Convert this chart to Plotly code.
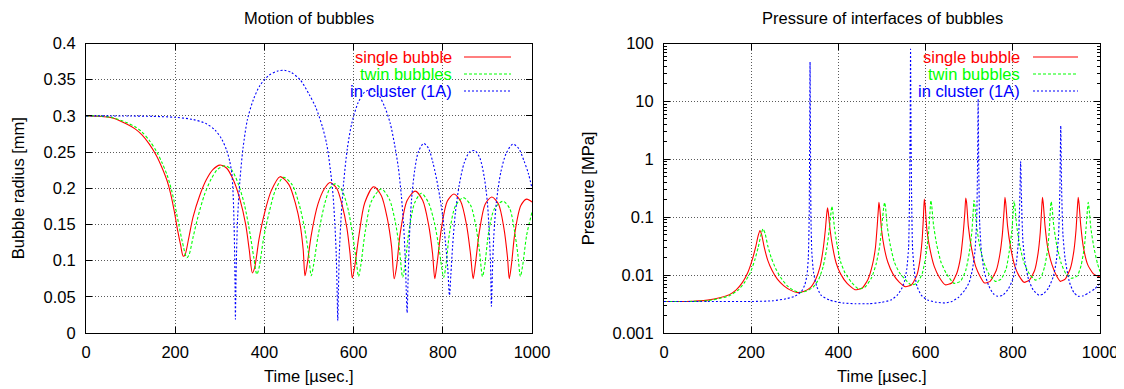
import plotly.graph_objects as go

# ---------------- data: bubble radius [mm] ----------------
t_r_single = [0, 30, 60, 90, 110, 125, 142, 158, 170, 182, 190, 198, 206, 212, 218, 222, 230, 240, 255, 270,
              285, 300, 315, 330, 345, 358, 366, 373, 378, 388, 400, 415, 435, 455, 470, 480, 487, 491, 496, 505,
              520, 535, 547, 562, 575, 585, 592, 597, 602, 612, 625, 645, 662, 675, 685, 691, 696, 705, 720, 738,
              755, 768, 777, 782, 787, 797, 810, 825, 840, 853, 862, 868, 873, 882, 895, 910, 925, 937, 945, 949,
              954, 962, 975, 988, 1000]
r_single = [0.300, 0.2995, 0.297, 0.289, 0.282, 0.274, 0.261, 0.245, 0.229, 0.210, 0.192, 0.168, 0.140, 0.122,
            0.106, 0.108, 0.130, 0.160, 0.190, 0.212, 0.226, 0.232, 0.228, 0.212, 0.185, 0.150, 0.115, 0.083,
            0.090, 0.130, 0.165, 0.196, 0.216, 0.205, 0.178, 0.150, 0.115, 0.079, 0.095, 0.135, 0.178, 0.200,
            0.208, 0.200, 0.175, 0.145, 0.110, 0.076, 0.090, 0.135, 0.180, 0.202, 0.190, 0.160, 0.120, 0.075,
            0.090, 0.140, 0.183, 0.196, 0.183, 0.150, 0.110, 0.075, 0.095, 0.145, 0.182, 0.192, 0.182, 0.150,
            0.110, 0.075, 0.095, 0.140, 0.178, 0.188, 0.178, 0.145, 0.105, 0.075, 0.095, 0.140, 0.176, 0.185,
            0.181]

t_r_twin = [0, 30, 60, 90, 110, 125, 142, 158, 170, 182, 192, 200, 208, 216, 226, 231, 240, 250, 265, 280,
            295, 312, 327, 342, 355, 367, 376, 383, 388, 398, 410, 425, 443, 462, 477, 490, 499, 505, 510, 520,
            535, 547, 559, 574, 588, 598, 606, 611, 616, 626, 640, 662, 680, 693, 702, 710, 715, 724, 737, 752,
            768, 782, 792, 802, 807, 815, 828, 846, 862, 874, 882, 889, 894, 903, 916, 935, 950, 961, 968, 974,
            979, 988, 1000]
r_twin = [0.300, 0.2997, 0.2975, 0.291, 0.285, 0.278, 0.266, 0.251, 0.236, 0.218, 0.197, 0.175, 0.150, 0.126,
          0.104, 0.108, 0.132, 0.158, 0.190, 0.212, 0.226, 0.231, 0.225, 0.205, 0.178, 0.140, 0.105, 0.081,
          0.090, 0.130, 0.165, 0.198, 0.215, 0.205, 0.180, 0.145, 0.110, 0.079, 0.093, 0.133, 0.178, 0.200,
          0.206, 0.197, 0.170, 0.135, 0.100, 0.078, 0.093, 0.140, 0.182, 0.199, 0.185, 0.155, 0.120, 0.077,
          0.093, 0.140, 0.180, 0.193, 0.180, 0.150, 0.115, 0.077, 0.093, 0.138, 0.175, 0.187, 0.177, 0.148,
          0.115, 0.078, 0.093, 0.140, 0.172, 0.182, 0.172, 0.140, 0.110, 0.078, 0.093, 0.135, 0.167]

t_r_cluster = [0, 100, 150, 200, 240, 270, 290, 305, 315, 322, 327, 330, 332, 333.5, 334.5, 335, 336, 337.5, 340,
               345, 352, 362, 375, 390, 410, 430, 445, 460, 480, 500, 515, 530, 540, 548, 554, 558, 561, 563,
               564.5, 566, 568, 572, 578, 586, 596, 610, 625, 640, 655, 670, 682, 692, 700, 707, 712, 716, 718,
               720, 722, 725, 730, 737, 745, 757, 768, 778, 790, 800, 806, 811, 815, 818, 822, 828, 837, 848,
               860, 872, 883, 893, 900, 904, 907, 909, 911, 914, 920, 930, 942, 957, 970, 982, 992, 1000]
r_cluster = [0.300, 0.2998, 0.2993, 0.298, 0.295, 0.289, 0.280, 0.267, 0.253, 0.238, 0.220, 0.190, 0.150, 0.100,
             0.050, 0.019, 0.060, 0.110, 0.160, 0.210, 0.255, 0.295, 0.322, 0.342, 0.356, 0.362, 0.363, 0.360,
             0.350, 0.330, 0.312, 0.285, 0.260, 0.225, 0.190, 0.150, 0.110, 0.060, 0.017, 0.060, 0.110, 0.160,
             0.210, 0.255, 0.290, 0.318, 0.333, 0.336, 0.330, 0.312, 0.290, 0.260, 0.230, 0.190, 0.150, 0.100,
             0.060, 0.028, 0.070, 0.130, 0.185, 0.225, 0.250, 0.262, 0.255, 0.235, 0.200, 0.160, 0.125, 0.090,
             0.052, 0.080, 0.120, 0.165, 0.205, 0.235, 0.250, 0.252, 0.242, 0.215, 0.180, 0.140, 0.095, 0.037,
             0.080, 0.130, 0.180, 0.222, 0.248, 0.261, 0.255, 0.238, 0.220, 0.200]

# ---------------- data: interface pressure [MPa] ----------------
t_p_single = [0, 50, 100, 130, 150, 165, 180, 192, 202, 210, 216, 220, 224, 230, 238, 248, 260, 275, 290, 305,
              320, 335, 348, 358, 365, 370, 373, 375, 377, 381, 387, 395, 405, 420, 438, 455, 468, 478, 485, 489,
              492, 493, 495, 499, 505, 513, 525, 540, 554, 568, 580, 587, 592, 595, 597, 599, 603, 610, 620, 632,
              645, 660, 672, 680, 686, 690, 692, 694, 698, 705, 715, 725, 735, 748, 762, 770, 776, 780, 782, 784,
              788, 795, 805, 815, 826, 838, 850, 858, 863, 866, 868, 870, 874, 880, 890, 900, 909, 920, 932, 940,
              945, 948, 950, 952, 956, 962, 972, 985, 1000]
p_single = [0.0035, 0.0035, 0.0037, 0.0041, 0.0046, 0.0055, 0.0075, 0.011, 0.018, 0.030, 0.048, 0.059, 0.050,
            0.030, 0.018, 0.012, 0.0085, 0.0065, 0.0055, 0.0050, 0.0052, 0.0060, 0.0085, 0.014, 0.028, 0.060,
            0.110, 0.145, 0.120, 0.060, 0.030, 0.016, 0.0105, 0.0072, 0.0056, 0.0060, 0.0085, 0.015, 0.030,
            0.070, 0.150, 0.180, 0.140, 0.060, 0.030, 0.017, 0.0105, 0.0075, 0.0063, 0.0068, 0.010, 0.018,
            0.040, 0.100, 0.205, 0.160, 0.060, 0.028, 0.014, 0.0090, 0.0068, 0.0073, 0.011, 0.020, 0.050,
            0.120, 0.215, 0.180, 0.070, 0.030, 0.014, 0.0095, 0.0073, 0.0078, 0.012, 0.022, 0.050, 0.130,
            0.220, 0.170, 0.070, 0.030, 0.014, 0.0095, 0.0075, 0.0082, 0.012, 0.024, 0.055, 0.130, 0.220,
            0.170, 0.070, 0.030, 0.015, 0.0098, 0.0078, 0.0085, 0.013, 0.026, 0.060, 0.140, 0.220, 0.170,
            0.070, 0.030, 0.015, 0.0105, 0.0092]

t_p_twin = [0, 50, 100, 130, 150, 170, 185, 198, 208, 216, 222, 227, 232, 238, 246, 256, 268, 283, 298, 312,
            327, 342, 355, 365, 373, 379, 383, 385, 387, 391, 397, 405, 415, 430, 446, 462, 476, 487, 495, 500,
            504, 506, 508, 512, 519, 528, 540, 553, 566, 580, 592, 600, 606, 610, 612, 614, 618, 625, 635, 648,
            665, 680, 692, 700, 706, 709, 711, 713, 717, 724, 733, 745, 760, 773, 785, 792, 798, 801, 803, 805,
            809, 816, 826, 838, 852, 864, 873, 880, 884, 886, 888, 890, 894, 901, 911, 922, 935, 948, 957, 964,
            968, 971, 973, 975, 979, 986, 994, 1000]
p_twin = [0.0035, 0.0035, 0.0036, 0.0040, 0.0044, 0.0055, 0.0075, 0.011, 0.018, 0.030, 0.048, 0.063, 0.052,
          0.032, 0.020, 0.013, 0.0090, 0.0065, 0.0054, 0.0050, 0.0053, 0.0062, 0.0085, 0.014, 0.028, 0.060,
          0.120, 0.155, 0.130, 0.065, 0.033, 0.017, 0.011, 0.0075, 0.0058, 0.0063, 0.0090, 0.016, 0.033,
          0.075, 0.150, 0.180, 0.150, 0.070, 0.033, 0.017, 0.011, 0.0085, 0.0068, 0.0072, 0.0105, 0.020,
          0.045, 0.120, 0.195, 0.160, 0.075, 0.035, 0.017, 0.0105, 0.0072, 0.0078, 0.012, 0.024, 0.055,
          0.120, 0.195, 0.160, 0.070, 0.032, 0.017, 0.0105, 0.0078, 0.0085, 0.013, 0.026, 0.060, 0.130,
          0.190, 0.150, 0.070, 0.032, 0.016, 0.0105, 0.0082, 0.0090, 0.014, 0.028, 0.065, 0.130, 0.186,
          0.150, 0.070, 0.032, 0.016, 0.0105, 0.0088, 0.0097, 0.015, 0.030, 0.065, 0.130, 0.180, 0.140,
          0.065, 0.030, 0.016, 0.0115]

t_p_cluster = [0, 100, 200, 250, 280, 300, 315, 323, 328, 331, 333, 334, 335, 336, 337, 339, 343, 350, 360, 380,
               410, 440, 470, 500, 520, 535, 545, 552, 557, 561, 563, 564.5, 565.5, 566.5, 568, 570, 574, 580,
               590, 605, 625, 645, 660, 675, 690, 700, 707, 713, 717, 719, 720.5, 722, 724, 728, 735, 745, 755,
               765, 777, 790, 800, 808, 813, 816, 818, 820, 823, 828, 836, 847, 860, 870, 882, 893, 900, 905,
               908, 910, 912, 915, 920, 930, 940, 950, 962, 975, 988, 1000]
p_cluster = [0.0035, 0.0035, 0.0035, 0.0036, 0.0039, 0.0043, 0.0052, 0.0068, 0.010, 0.020, 0.10, 1.5, 48.0,
             1.5, 0.10, 0.025, 0.011, 0.0065, 0.0045, 0.0037, 0.0033, 0.0032, 0.0032, 0.0034, 0.0037, 0.0045,
             0.0058, 0.0080, 0.013, 0.030, 0.20, 3.0, 80.0, 3.0, 0.20, 0.030, 0.012, 0.0065, 0.0045, 0.0037,
             0.0034, 0.0033, 0.0035, 0.0041, 0.0055, 0.0075, 0.012, 0.025, 0.080, 0.60, 11.0, 0.60, 0.080,
             0.025, 0.011, 0.0065, 0.0048, 0.0043, 0.0045, 0.0058, 0.0085, 0.016, 0.040, 0.20, 0.92, 0.20,
             0.040, 0.017, 0.0085, 0.0055, 0.0045, 0.0047, 0.0060, 0.0095, 0.018, 0.050, 0.30, 3.8, 0.30,
             0.050, 0.019, 0.0075, 0.0050, 0.0043, 0.0044, 0.0050, 0.0058, 0.0072]

series_names = ["single bubble", "twin bubbles", "in cluster (1A)"]
series_colors = ["#ff0000", "#00ff00", "#0000ff"]
series_dash = ["solid", "3px,2px", "2px,2px"]

x_ticks = [0, 200, 400, 600, 800, 1000]
r_ticks = [0, 0.05, 0.1, 0.15, 0.2, 0.25, 0.3, 0.35, 0.4]
p_ticks = [0.001, 0.01, 0.1, 1, 10, 100]
p_ticktext = ["0.001", "0.01", "0.1", "1", "10", "100"]
p_minor = [m * 10.0 ** e for e in range(-3, 2) for m in range(2, 10)]

FONT = "Liberation Sans, Arial, sans-serif"
FS = 16.5
LW = 1.1
OFF = 8  # the page body adds an 8 px margin; lay out in window pixels minus this
W, H = 1124 - OFF, 389 - OFF


def px(x):
    return (x - OFF) / W


def py(y):
    return 1 - (y - OFF) / H


fig = go.Figure()

radius_data = [(t_r_single, r_single), (t_r_twin, r_twin), (t_r_cluster, r_cluster)]
press_data = [(t_p_single, p_single), (t_p_twin, p_twin), (t_p_cluster, p_cluster)]

for i, (tx, ry) in enumerate(radius_data):
    fig.add_trace(go.Scatter(x=tx, y=ry, mode="lines", name=series_names[i], showlegend=False,
                             line=dict(color=series_colors[i], width=LW, dash=series_dash[i],
                                       shape="spline", smoothing=0.8),
                             xaxis="x", yaxis="y"))
for i, (tx, pv) in enumerate(press_data):
    fig.add_trace(go.Scatter(x=tx, y=pv, mode="lines", name=series_names[i], showlegend=False,
                             line=dict(color=series_colors[i], width=LW, dash=series_dash[i],
                                       shape="spline", smoothing=0.5),
                             xaxis="x2", yaxis="y2"))

# plot-area geometry (window pixels)
L1, R1 = 86, 532
L2, R2 = 664, 1100
TOP, BOT = 43.5, 333
ydom = [py(BOT), py(TOP)]

common_axis = dict(showline=True, linecolor="black", linewidth=1, mirror="allticks",
                   ticks="inside", ticklen=6, tickcolor="black", tickwidth=1,
                   showgrid=True, gridcolor="#5a5a5a", griddash="1px,2px", gridwidth=1,
                   zeroline=False, automargin=False,
                   tickfont=dict(family=FONT, size=FS, color="black"))

fig.update_layout(
    width=W, height=H, autosize=False,
    margin=dict(l=0, r=0, t=0, b=0, pad=0),
    paper_bgcolor="white", plot_bgcolor="white",
    font=dict(family=FONT, size=FS, color="black"),
    showlegend=False,
    xaxis=dict(domain=[px(L1), px(R1)], range=[0, 1000], tickvals=x_ticks, anchor="y",
               ticklabelstandoff=4, **common_axis),
    yaxis=dict(domain=ydom, range=[0, 0.4], tickvals=r_ticks, anchor="x",
               ticklabelstandoff=6, **common_axis),
    xaxis2=dict(domain=[px(L2), px(R2)], range=[0, 1000], tickvals=x_ticks, anchor="y2",
                ticklabelstandoff=4, **common_axis),
    yaxis2=dict(domain=ydom, type="log", range=[-3, 2], tickvals=p_ticks, ticktext=p_ticktext,
                anchor="x2", ticklabelstandoff=6,
                minor=dict(tickvals=p_minor, ticks="inside", ticklen=3, tickcolor="black", showgrid=False),
                **common_axis),
)

# titles and axis labels
ann = [
    dict(text="Motion of bubbles", x=px((L1 + R1) / 2), y=py(18)),
    dict(text="Pressure of interfaces of bubbles", x=px((L2 + R2) / 2), y=py(18)),
    dict(text="Time [µsec.]", x=px((L1 + R1) / 2), y=py(376)),
    dict(text="Time [µsec.]", x=px((L2 + R2) / 2), y=py(376)),
    dict(text="Bubble radius [mm]", x=px(18), y=py((TOP + BOT) / 2), textangle=-90),
    dict(text="Pressure [MPa]", x=px(588), y=py((TOP + BOT) / 2), textangle=-90),
]
for a in ann:
    fig.add_annotation(xref="paper", yref="paper", showarrow=False, xanchor="center", yanchor="middle",
                       font=dict(family=FONT, size=FS, color="black"), **a)

# in-plot keys (text right-aligned, line sample at right), as in gnuplot
key_rows = [57, 74, 91]
for (xa, ya, L, R, txt_right, s0, s1) in [("x", "y", L1, R1, 454, 464, 511),
                                          ("x2", "y2", L2, R2, 1022, 1033, 1078)]:
    for i, yy in enumerate(key_rows):
        yd = (BOT - yy) / (BOT - TOP)
        fig.add_annotation(xref=f"{xa} domain", yref=f"{ya} domain", x=(txt_right - L) / (R - L), y=yd,
                           text=series_names[i], showarrow=False, xanchor="right", yanchor="middle",
                           font=dict(family=FONT, size=FS, color=series_colors[i]))
        fig.add_shape(type="line", xref=f"{xa} domain", yref=f"{ya} domain",
                      x0=(s0 - L) / (R - L), x1=(s1 - L) / (R - L), y0=yd, y1=yd,
                      line=dict(color=series_colors[i], width=LW, dash=series_dash[i]))

fig.write_html("out.html")
